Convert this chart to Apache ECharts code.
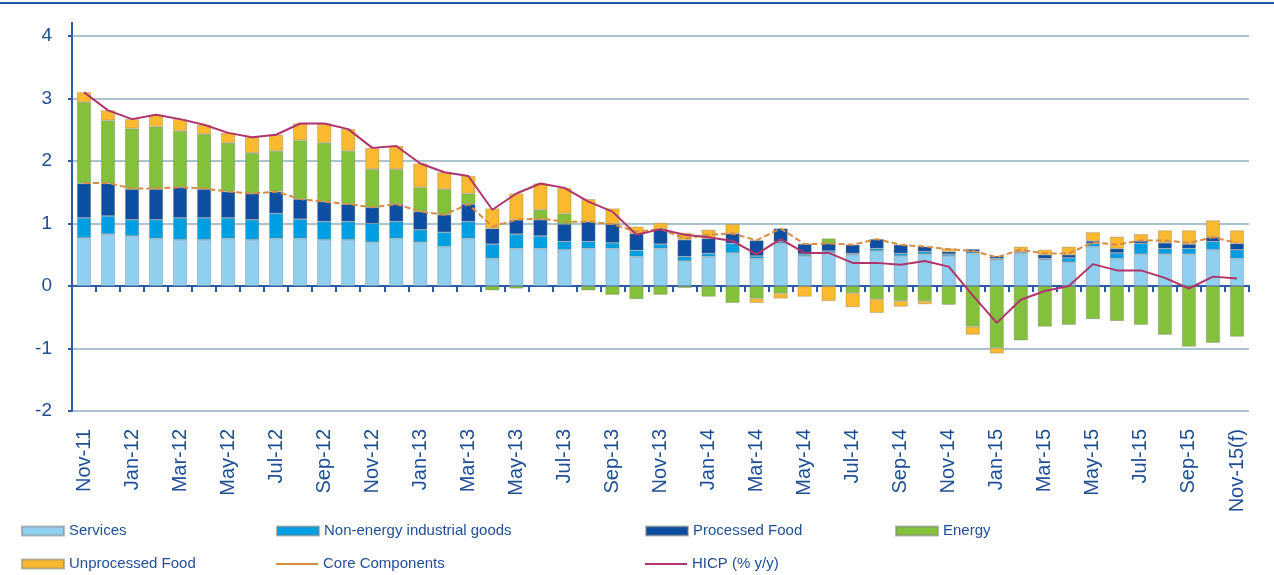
<!DOCTYPE html>
<html>
<head>
<meta charset="utf-8">
<script src="https://cdn.jsdelivr.net/npm/echarts@6/dist/echarts.min.js"></script>
<style>
html,body{margin:0;padding:0;background:#fff;}
#c{width:1274px;height:575px;}
</style>
</head>
<body>
<div id="c"></div>
<script>
var categories = ['Nov-11','Dec-11','Jan-12','Feb-12','Mar-12','Apr-12','May-12','Jun-12','Jul-12','Aug-12','Sep-12','Oct-12',
'Nov-12','Dec-12','Jan-13','Feb-13','Mar-13','Apr-13','May-13','Jun-13','Jul-13','Aug-13','Sep-13','Oct-13',
'Nov-13','Dec-13','Jan-14','Feb-14','Mar-14','Apr-14','May-14','Jun-14','Jul-14','Aug-14','Sep-14','Oct-14',
'Nov-14','Dec-14','Jan-15','Feb-15','Mar-15','Apr-15','May-15','Jun-15','Jul-15','Aug-15','Sep-15','Oct-15','Nov-15(f)'];

var services = [0.77,0.83,0.80,0.76,0.74,0.74,0.76,0.74,0.76,0.76,0.74,0.74,
0.70,0.76,0.70,0.63,0.76,0.44,0.60,0.60,0.58,0.60,0.60,0.47,
0.60,0.40,0.47,0.53,0.44,0.68,0.48,0.53,0.50,0.56,0.48,0.51,
0.48,0.52,0.42,0.52,0.42,0.38,0.63,0.44,0.51,0.51,0.51,0.58,0.44];

var nonEnergyGoods = [0.32,0.29,0.26,0.30,0.35,0.35,0.33,0.32,0.40,0.31,0.29,0.29,
0.30,0.27,0.20,0.23,0.27,0.23,0.23,0.20,0.13,0.11,0.09,0.10,
0.07,0.07,0.05,0.15,0.04,0.03,0.03,0.03,0.02,0.04,0.04,0.04,
0.03,0.03,0.02,0.02,0.02,0.07,0.05,0.09,0.17,0.09,0.09,0.13,0.14];

var processedFood = [0.55,0.52,0.49,0.49,0.49,0.46,0.42,0.42,0.35,0.32,0.32,0.28,
0.26,0.28,0.29,0.28,0.28,0.25,0.23,0.26,0.28,0.32,0.30,0.27,
0.24,0.27,0.24,0.16,0.25,0.21,0.16,0.12,0.14,0.15,0.14,0.08,
0.04,0.04,0.04,0.01,0.06,0.05,0.04,0.07,0.04,0.09,0.07,0.07,0.10];

var energy = [1.30,1.01,0.97,1.00,0.90,0.88,0.78,0.65,0.65,0.94,0.94,0.85,
0.61,0.56,0.39,0.41,0.17,-0.07,-0.04,0.16,0.17,-0.07,-0.14,-0.21,
-0.14,-0.03,-0.17,-0.27,-0.20,-0.12,0.00,0.08,-0.11,-0.21,-0.24,-0.24,
-0.30,-0.65,-0.99,-0.87,-0.65,-0.62,-0.53,-0.56,-0.62,-0.78,-0.97,-0.91,-0.81];

var unprocessedFood = [0.16,0.16,0.15,0.19,0.19,0.15,0.16,0.25,0.26,0.27,0.31,0.35,
0.34,0.37,0.38,0.27,0.28,0.32,0.42,0.42,0.41,0.36,0.25,0.11,
0.10,0.11,0.14,0.15,-0.07,-0.08,-0.17,-0.24,-0.23,-0.22,-0.09,-0.05,
0.05,-0.13,-0.09,0.08,0.08,0.13,0.14,0.19,0.11,0.20,0.22,0.27,0.21];

var coreComponents = [1.65,1.65,1.56,1.56,1.58,1.56,1.51,1.48,1.51,1.39,1.35,1.31,
1.26,1.31,1.19,1.14,1.31,0.95,1.06,1.08,1.03,1.03,0.99,0.87,
0.91,0.76,0.82,0.84,0.73,0.92,0.67,0.68,0.66,0.75,0.66,0.63,
0.59,0.56,0.46,0.58,0.52,0.52,0.70,0.66,0.73,0.73,0.69,0.78,0.69];

var hicp = [3.10,2.81,2.67,2.74,2.67,2.58,2.45,2.38,2.42,2.60,2.60,2.51,
2.21,2.24,1.96,1.82,1.76,1.22,1.48,1.64,1.57,1.35,1.19,0.82,
0.91,0.82,0.78,0.72,0.51,0.75,0.53,0.53,0.37,0.37,0.34,0.40,
0.31,-0.15,-0.59,-0.22,-0.08,0.00,0.35,0.25,0.25,0.13,-0.04,0.15,0.12];

var yTicks = {min:-2, max:4, interval:1};

var textBlue = '#1f4e96';
var axisBlue = '#2a5ba4';
var font = 'Liberation Sans, Arial, sans-serif';

var chart = echarts.init(document.getElementById('c'), null, {renderer:'canvas'});

function barSeries(name, data, color){
  return {
    name: name, type: 'bar', stack: 'total', data: data, barWidth: 14,
    itemStyle: {color: color, borderColor: 'rgba(130,130,130,0.55)', borderWidth: 0.7},
    emphasis: {disabled: true}
  };
}

function legendItem(name, left, top, isLine){
  return {
    data: [name], left: left, top: top, padding: 0,
    itemWidth: 42, itemHeight: isLine ? 2 : 9, itemGap: 5,
    icon: 'rect', selectedMode: false,
    textStyle: {color: textBlue, fontSize: 15, fontFamily: font, lineHeight: 16, padding: [0,0,0,0]}
  };
}

var option = {
  animation: false,
  backgroundColor: '#ffffff',
  grid: {left: 72, right: 25, top: 36, bottom: 164, containLabel: false},
  legend: [
    legendItem('Services', 21, 523, false),
    legendItem('Non-energy industrial goods', 276, 523, false),
    legendItem('Processed Food', 645, 523, false),
    legendItem('Energy', 895, 523, false),
    legendItem('Unprocessed Food', 21, 556, false),
    legendItem('Core Components', 276, 556, true),
    legendItem('HICP (% y/y)', 645, 556, true)
  ],
  xAxis: [
    {
      type: 'category', data: categories, position: 'bottom',
      axisLine: {show: false, onZero: false},
      axisTick: {show: false},
      splitLine: {show: false},
      axisLabel: {interval: 1, rotate: 90, margin: 18, color: textBlue, fontSize: 20, fontFamily: font}
    },
    {
      type: 'category', data: categories, position: 'bottom',
      axisLine: {show: true, onZero: true, lineStyle: {color: axisBlue, width: 2}},
      axisTick: {show: true, interval: 0, length: 6, lineStyle: {color: axisBlue, width: 2}},
      axisLabel: {show: false},
      splitLine: {show: false}
    }
  ],
  yAxis: {
    type: 'value', min: yTicks.min, max: yTicks.max, interval: yTicks.interval,
    axisLine: {show: true, lineStyle: {color: axisBlue, width: 2}},
    axisTick: {show: true, length: 4, lineStyle: {color: axisBlue, width: 2}},
    axisLabel: {color: textBlue, fontSize: 19, fontFamily: font, margin: 20},
    splitLine: {show: true, lineStyle: {color: '#aac3cf', width: 2}}
  },
  graphic: [
    {type: 'rect', shape: {x: 0, y: 2, width: 1274, height: 2}, style: {fill: '#1e5aa6'}, silent: true},
    {type: 'line', shape: {x1: 72, y1: 22, x2: 72, y2: 36}, style: {stroke: axisBlue, lineWidth: 2}, silent: true}
  ],
  series: [
    barSeries('Services', services, '#8fd0f0'),
    barSeries('Non-energy industrial goods', nonEnergyGoods, '#009fe3'),
    barSeries('Processed Food', processedFood, '#0b4ea2'),
    barSeries('Energy', energy, '#84c13a'),
    barSeries('Unprocessed Food', unprocessedFood, '#fbb92f'),
    {
      name: 'Core Components', type: 'line', data: coreComponents, symbol: 'none', z: 5,
      lineStyle: {color: '#d68c45', width: 2, type: [6, 3]},
      itemStyle: {color: '#d68c45'}, emphasis: {disabled: true}
    },
    {
      name: 'HICP (% y/y)', type: 'line', data: hicp, symbol: 'none', z: 6,
      lineStyle: {color: '#b0346c', width: 2},
      itemStyle: {color: '#b0346c'}, emphasis: {disabled: true}
    }
  ]
};
chart.setOption(option);
</script>
</body>
</html>
